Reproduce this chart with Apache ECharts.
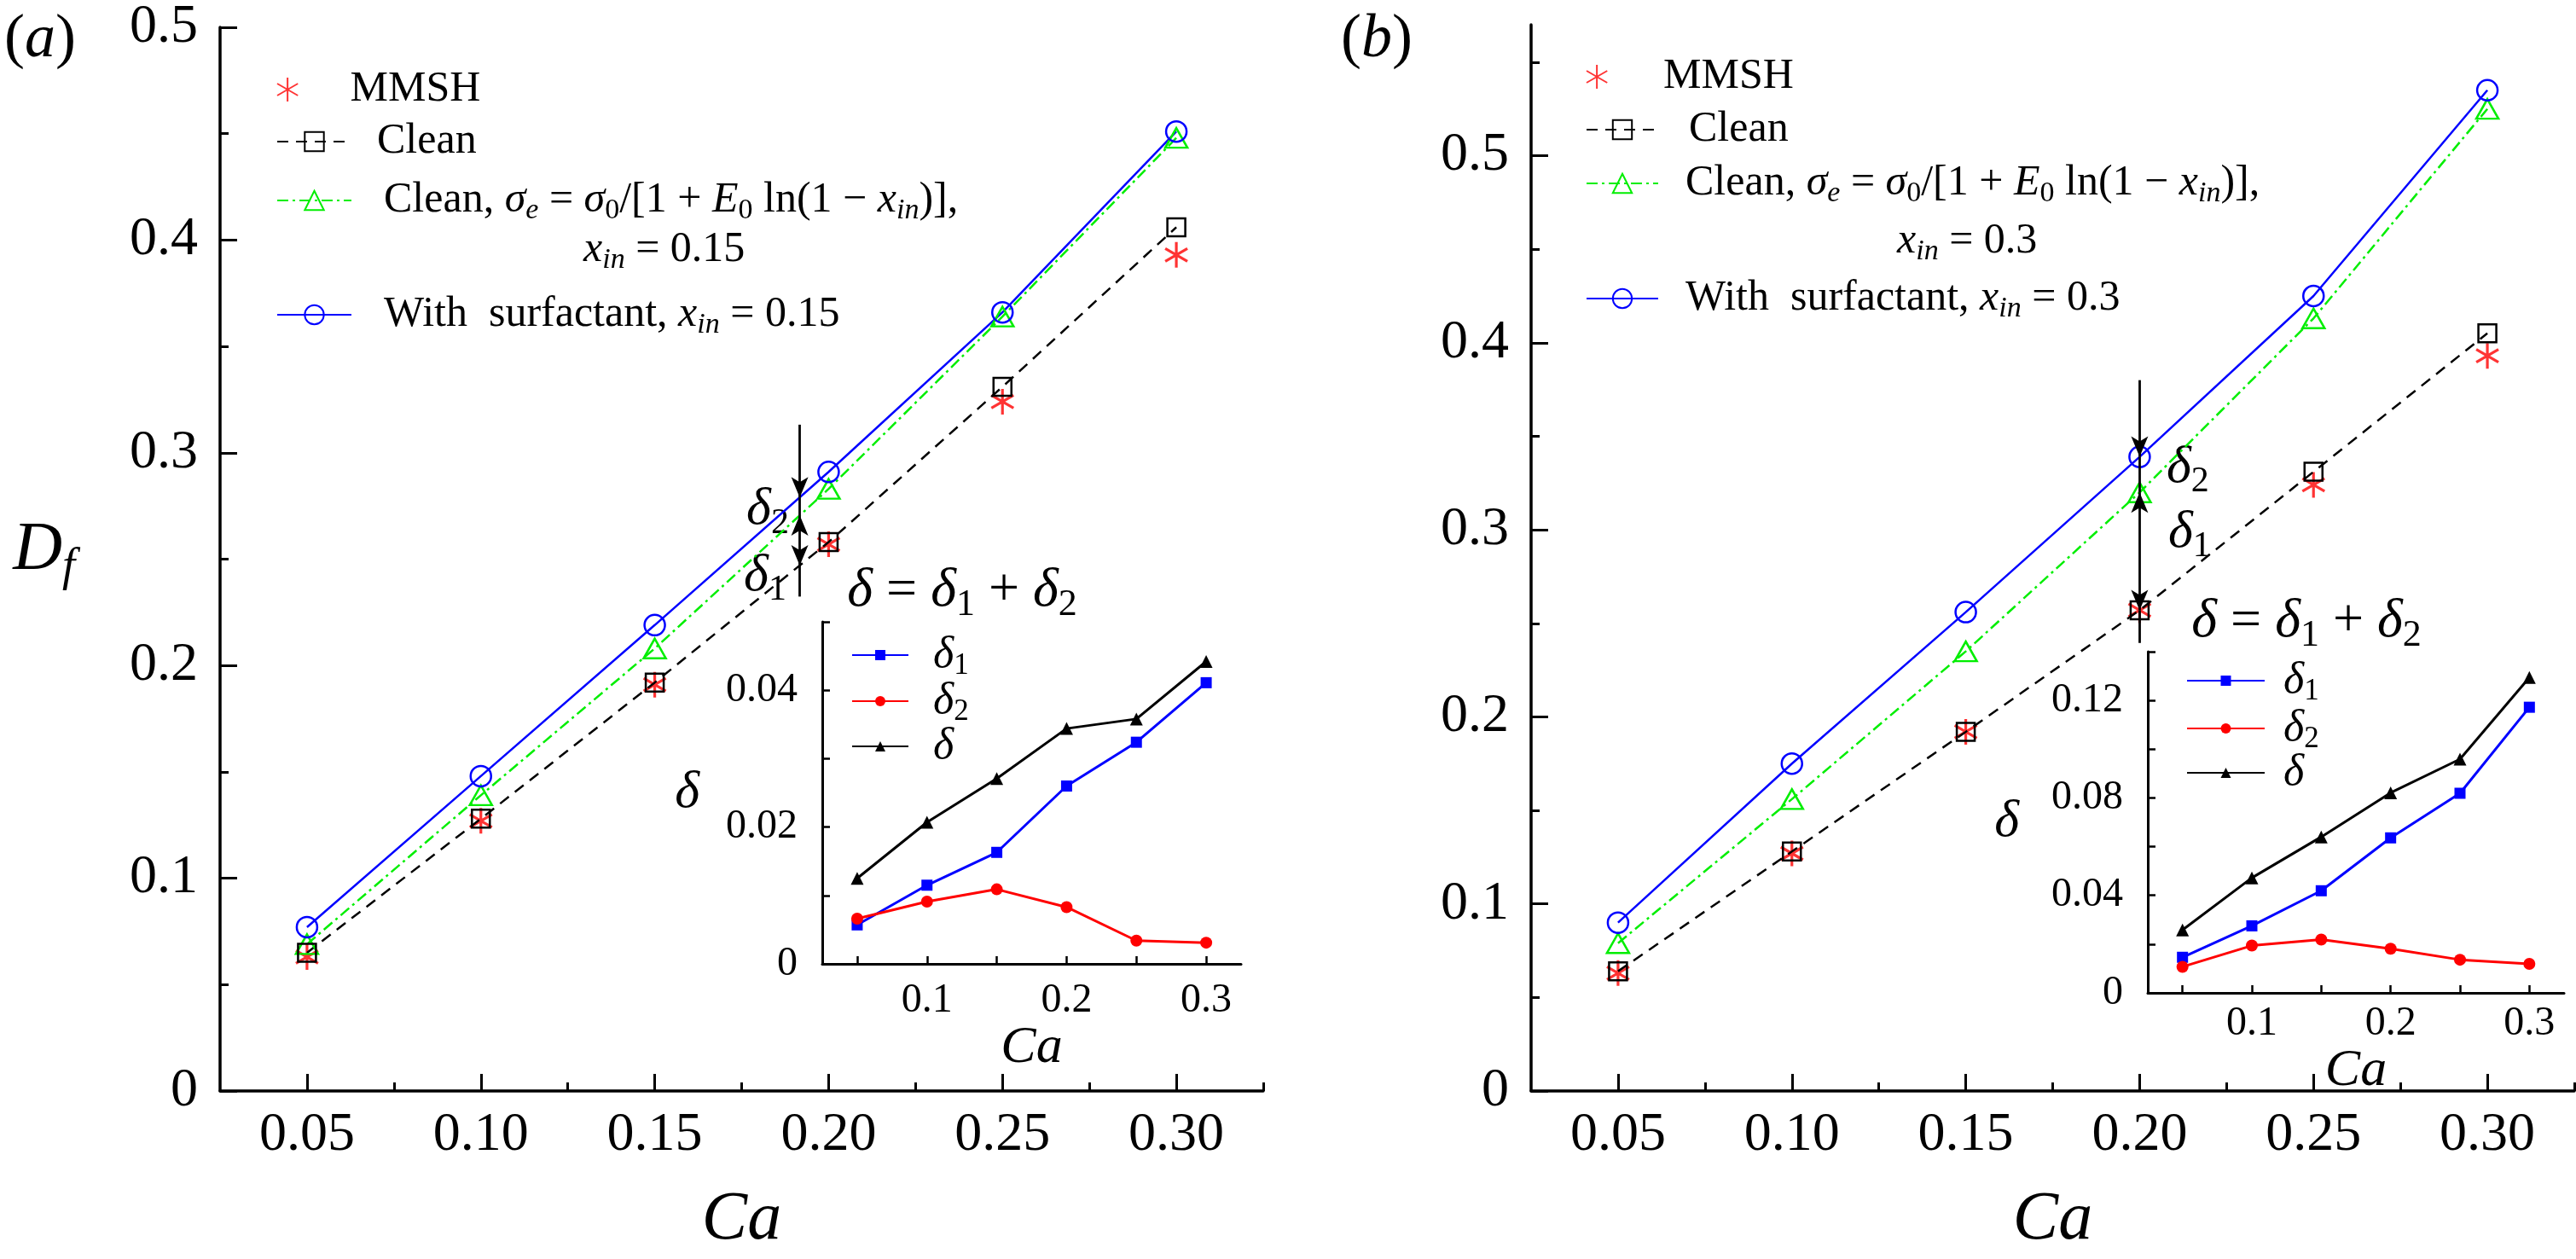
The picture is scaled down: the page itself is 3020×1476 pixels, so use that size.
<!DOCTYPE html>
<html>
<head>
<meta charset="utf-8">
<script src="https://cdn.jsdelivr.net/npm/echarts@6/dist/echarts.min.js"></script>
<style>html,body{margin:0;padding:0;background:#fff}#chart{width:3020px;height:1476px}</style>
</head>
<body>
<div id="chart"></div>
<script>
// ---------- data ----------
const ca = [0.05, 0.10, 0.15, 0.20, 0.25, 0.30];

// panel (a), x_in = 0.15
const mmshA       = [0.063, 0.127, 0.191, 0.257, 0.324, 0.393];
const cleanA      = [0.065, 0.128, 0.192, 0.258, 0.331, 0.406];
const cleanSigmaA = [0.069, 0.139, 0.208, 0.283, 0.364, 0.448];
const surfA       = [0.077, 0.148, 0.219, 0.291, 0.366, 0.451];

// panel (b), x_in = 0.3
const mmshB       = [0.063, 0.127, 0.192, 0.257, 0.324, 0.393];
const cleanB      = [0.064, 0.128, 0.192, 0.257, 0.331, 0.405];
const cleanSigmaB = [0.079, 0.156, 0.235, 0.320, 0.413, 0.525];
const surfB       = [0.090, 0.175, 0.256, 0.339, 0.425, 0.535];

// insets
const d1A = [0.0057, 0.0115, 0.0163, 0.0260, 0.0324, 0.0411];
const d2A = [0.0066, 0.0091, 0.0109, 0.0083, 0.0034, 0.0031];
const dA  = [0.0125, 0.0207, 0.0271, 0.0344, 0.0358, 0.0442];
const d1B = [0.0146, 0.0275, 0.0419, 0.0636, 0.0819, 0.1172];
const d2B = [0.0107, 0.0194, 0.0219, 0.0181, 0.0136, 0.0119];
const dB  = [0.0258, 0.0472, 0.0640, 0.0821, 0.0959, 0.1294];

// annotation arrows: [Ca, top, blue, green, clean, bottom]
const arrowA = [0.1917, 0.3132, 0.279, 0.2706, 0.247, 0.2324];
const arrowB = [0.20, 0.380, 0.339, 0.320, 0.257, 0.2395];

// tick values
const mainXTicks  = [0.05, 0.10, 0.15, 0.20, 0.25, 0.30];
const mainXMinor  = [0.075, 0.125, 0.175, 0.225, 0.275, 0.325];
const mainYTicks  = [0, 0.1, 0.2, 0.3, 0.4, 0.5];
const mainYMinorA = [0.05, 0.15, 0.25, 0.35, 0.45];
const mainYMinorB = [0.05, 0.15, 0.25, 0.35, 0.45, 0.55];
const insetXTicks  = [0.05, 0.10, 0.15, 0.20, 0.25, 0.30];
const insetXLabels = [0.1, 0.2, 0.3];
const insetYTicksA  = [0, 0.01, 0.02, 0.03, 0.04, 0.05];
const insetYLabelsA = [0, 0.02, 0.04];
const insetYTicksB  = [0, 0.02, 0.04, 0.06, 0.08, 0.10, 0.12, 0.14];
const insetYLabelsB = [0, 0.04, 0.08, 0.12];

// ---------- styling ----------
const FONT = "'Liberation Serif', 'Times New Roman', serif";
const BLUE = '#0000ff', RED = '#ff0000', GREEN = '#00ee00', BLACK = '#000000';
const STAR = 'path://M0,-10L0,10M-8.66,-5L8.66,5M-8.66,5L8.66,-5';

function R(s) {
  const lh = Math.round(s * 1.1), ss = Math.round(s * 0.68), p = Math.round(s * 0.5);
  return {
    r:  {fontFamily: FONT, fontSize: s, color: BLACK, lineHeight: lh},
    i:  {fontFamily: FONT, fontSize: s, fontStyle: 'italic', color: BLACK, lineHeight: lh},
    si: {fontFamily: FONT, fontSize: ss, fontStyle: 'italic', color: BLACK, lineHeight: lh, padding: [p, 0, 0, 0]},
    sr: {fontFamily: FONT, fontSize: ss, color: BLACK, lineHeight: lh, padding: [p, 0, 0, 0]}
  };
}
const pts = (ys) => ca.map((x, i) => [x, ys[i]]);

const cleanSigmaTxt = '{r|Clean, }{i|σ}{si|e}{r| = }{i|σ}{sr|0}{r|/[1 + }{i|E}{sr|0}{r| ln(1 − }{i|x}{si|in}{r|)],}';
const surfTxt = (v) => '{r|With  surfactant, }{i|x}{si|in}{r| = ' + v + '}';
const xinTxt = (v) => '{i|x}{si|in}{r| = ' + v + '}';
const dTxt = (n) => '{i|δ}{sr|' + n + '}';
const titleTxt = '{i|δ}{r| = }{i|δ}{sr|1}{r| + }{i|δ}{sr|2}';

function leg(series, text, left, cy, iw, ih, fs, padL) {
  const lh = Math.round(fs * 1.1);
  return {
    show: true, data: [series], left: left, top: cy - Math.max(lh, ih) / 2, orient: 'vertical',
    itemWidth: iw, itemHeight: ih, padding: 0, selectedMode: false,
    formatter: () => text,
    textStyle: {fontFamily: FONT, fontSize: fs, color: BLACK, lineHeight: lh, padding: [0, 0, 0, padL], rich: R(fs)}
  };
}

// ---------- axes ----------
function mainX(grid) {
  return [
    {type: 'value', gridIndex: grid, min: 0.025, max: 0.325, position: 'bottom',
     axisLine: {show: true, onZero: false, lineStyle: {color: BLACK, width: 3.5}},
     axisTick: {show: true, inside: true, length: 20, lineStyle: {color: BLACK, width: 3}, customValues: mainXTicks},
     axisLabel: {show: true, margin: 20, fontFamily: FONT, fontSize: 64, color: BLACK, customValues: mainXTicks, formatter: v => v.toFixed(2)},
     splitLine: {show: false},
     name: 'Ca', nameLocation: 'middle', nameGap: 112,
     nameTextStyle: {fontFamily: FONT, fontSize: 80, fontStyle: 'italic', color: BLACK, lineHeight: 80}},
    {type: 'value', gridIndex: grid, min: 0.025, max: 0.325, position: 'bottom',
     axisLine: {show: false},
     axisTick: {show: true, inside: true, length: 10, lineStyle: {color: BLACK, width: 3}, customValues: mainXMinor},
     axisLabel: {show: false}, splitLine: {show: false}}
  ];
}
function mainY(grid, max, minor, withName) {
  const major = {type: 'value', gridIndex: grid, min: 0, max: max, position: 'left',
     axisLine: {show: true, onZero: false, lineStyle: {color: BLACK, width: 3.5}},
     axisTick: {show: true, inside: true, length: 20, lineStyle: {color: BLACK, width: 3}, customValues: mainYTicks},
     axisLabel: {show: true, margin: 26, fontFamily: FONT, fontSize: 64, color: BLACK, customValues: mainYTicks,
                 formatter: v => v === 0 ? '0' : v.toFixed(1)},
     splitLine: {show: false}};
  if (withName) {
    major.name = '{i|D}{si|f}';
    major.nameLocation = 'middle';
    major.nameRotate = 0;
    major.nameGap = 170;
    major.nameTextStyle = {fontFamily: FONT, fontSize: 80, color: BLACK, padding: [0, 0, 20, 0], rich: R(80)};
  }
  return [major,
    {type: 'value', gridIndex: grid, min: 0, max: max, position: 'left',
     axisLine: {show: false},
     axisTick: {show: true, inside: true, length: 10, lineStyle: {color: BLACK, width: 3}, customValues: minor},
     axisLabel: {show: false}, splitLine: {show: false}}];
}
function insetX(grid, margin, gap) {
  return {type: 'value', gridIndex: grid, min: 0.025, max: 0.325, position: 'bottom',
    axisLine: {show: true, onZero: false, lineStyle: {color: BLACK, width: 3}},
    axisTick: {show: true, inside: true, length: 9, lineStyle: {color: BLACK, width: 2.5}, customValues: insetXTicks},
    axisLabel: {show: true, margin: margin, fontFamily: FONT, fontSize: 48, color: BLACK, customValues: insetXLabels, formatter: v => v.toFixed(1)},
    splitLine: {show: false},
    name: 'Ca', nameLocation: 'middle', nameGap: gap,
    nameTextStyle: {fontFamily: FONT, fontSize: 62, fontStyle: 'italic', color: BLACK, lineHeight: 62}};
}
function insetY(grid, max, ticks, labels, gap, pad) {
  return {type: 'value', gridIndex: grid, min: 0, max: max, position: 'left',
    axisLine: {show: true, onZero: false, lineStyle: {color: BLACK, width: 3}},
    axisTick: {show: true, inside: true, length: 9, lineStyle: {color: BLACK, width: 2.5}, customValues: ticks},
    axisLabel: {show: true, margin: 29, fontFamily: FONT, fontSize: 48, color: BLACK, customValues: labels,
                formatter: v => v === 0 ? '0' : v.toFixed(2)},
    splitLine: {show: false},
    name: 'δ', nameLocation: 'middle', nameRotate: 0, nameGap: gap,
    nameTextStyle: {fontFamily: FONT, fontSize: 62, fontStyle: 'italic', color: BLACK, lineHeight: 62, padding: pad}};
}

// ---------- series ----------
function mainSeries(tag, xi, yi, mmsh, clean, cleanSigma, surf) {
  return [
    {name: 'cleanSigma' + tag, type: 'line', xAxisIndex: xi, yAxisIndex: yi, data: pts(cleanSigma), color: GREEN,
     symbol: 'triangle', symbolSize: [26, 23],
     itemStyle: {color: 'rgba(255,255,255,0)', borderColor: GREEN, borderWidth: 2.5},
     lineStyle: {color: GREEN, width: 2.5, type: [13, 5, 3, 5]}},
    {name: 'surf' + tag, type: 'line', xAxisIndex: xi, yAxisIndex: yi, data: pts(surf), color: BLUE,
     symbol: 'circle', symbolSize: 24,
     itemStyle: {color: 'rgba(255,255,255,0)', borderColor: BLUE, borderWidth: 2.5},
     lineStyle: {color: BLUE, width: 2.5, type: 'solid'}},
    {name: 'clean' + tag, type: 'line', xAxisIndex: xi, yAxisIndex: yi, data: pts(clean), color: BLACK,
     symbol: 'rect', symbolSize: 21,
     itemStyle: {color: 'rgba(255,255,255,0)', borderColor: BLACK, borderWidth: 2.5},
     lineStyle: {color: BLACK, width: 2.5, type: [13, 9]}},
    {name: 'mmsh' + tag, type: 'scatter', xAxisIndex: xi, yAxisIndex: yi, data: pts(mmsh), color: RED,
     symbol: STAR, symbolSize: 30, symbolKeepAspect: true,
     itemStyle: {color: RED, borderColor: RED, borderWidth: 3.2}}
  ];
}
function arrowSeries(xi, yi, a) {
  const x = a[0];
  const head = {symbol: 'arrow', symbolSize: [15, 24]};
  return {name: 'arrow' + xi, type: 'line', xAxisIndex: xi, yAxisIndex: yi, data: [], silent: true,
    markLine: {silent: true, animation: false, symbol: ['none', 'none'], label: {show: false},
      lineStyle: {color: BLACK, width: 2.8, type: 'solid'},
      emphasis: {disabled: true},
      data: [
        [{coord: [x, a[1]], symbol: 'none'}, Object.assign({coord: [x, a[2]]}, head)],
        [{coord: [x, a[2]], symbol: 'none'}, {coord: [x, a[3]], symbol: 'none'}],
        [Object.assign({coord: [x, a[3]]}, head), Object.assign({coord: [x, a[4]]}, head)],
        [{coord: [x, a[4]], symbol: 'none'}, {coord: [x, a[5]], symbol: 'none'}]
      ]}};
}
function insetSeries(tag, xi, yi, d1, d2, d) {
  return [
    {name: 'd1' + tag, type: 'line', xAxisIndex: xi, yAxisIndex: yi, data: pts(d1), color: BLUE,
     symbol: 'rect', symbolSize: 13, itemStyle: {color: BLUE}, lineStyle: {color: BLUE, width: 3}},
    {name: 'd2' + tag, type: 'line', xAxisIndex: xi, yAxisIndex: yi, data: pts(d2), color: RED,
     symbol: 'circle', symbolSize: 14, itemStyle: {color: RED}, lineStyle: {color: RED, width: 3}},
    {name: 'd' + tag, type: 'line', xAxisIndex: xi, yAxisIndex: yi, data: pts(d), color: BLACK,
     symbol: 'triangle', symbolSize: 15, itemStyle: {color: BLACK}, lineStyle: {color: BLACK, width: 3}}
  ];
}

const xAxes = [].concat(mainX(0), mainX(1), [insetX(2, 19, 67), insetX(3, 12, 59)]);
const yAxes = [].concat(mainY(0, 0.5, mainYMinorA, true), mainY(1, 0.57, mainYMinorB, false),
  [insetY(2, 0.05, insetYTicksA, insetYLabelsA, 144, [0, 0, 68, 0]),
   insetY(3, 0.14, insetYTicksB, insetYLabelsB, 151, [64, 0, 0, 0])]);

const option = {
  animation: false,
  backgroundColor: '#ffffff',
  grid: [
    {left: 258, top: 31, width: 1223, height: 1250},
    {left: 1795, top: 29, width: 1223, height: 1252},
    {left: 964, top: 729, width: 491, height: 401},
    {left: 2518, top: 764, width: 488, height: 400}
  ],
  xAxis: xAxes,
  yAxis: yAxes,
  legend: [
    leg('mmshA', '{r|MMSH}', 324, 105, 87, 28, 50, 25),
    leg('cleanA', '{r|Clean}', 324, 166, 87, 28, 50, 25),
    leg('cleanSigmaA', cleanSigmaTxt, 324, 233, 87, 28, 50, 33),
    leg('surfA', surfTxt('0.15'), 324, 367, 87, 28, 50, 33),
    leg('mmshB', '{r|MMSH}', 1859, 90, 84, 28, 50, 31),
    leg('cleanB', '{r|Clean}', 1859, 152, 84, 28, 50, 31),
    leg('cleanSigmaB', cleanSigmaTxt, 1859, 213, 84, 28, 50, 27),
    leg('surfB', surfTxt('0.3'), 1859, 348, 84, 28, 50, 27),
    leg('d1A', dTxt(1), 998, 766, 66, 15, 52, 24),
    leg('d2A', dTxt(2), 998, 820, 66, 15, 52, 24),
    leg('dA', '{i|δ}', 998, 875, 66, 15, 52, 24),
    leg('d1B', dTxt(1), 2563, 796, 91, 15, 52, 17),
    leg('d2B', dTxt(2), 2563, 852, 91, 15, 52, 17),
    leg('dB', '{i|δ}', 2563, 906, 91, 15, 52, 17)
  ],
  graphic: [
    {type: 'text', x: 5, y: 47, style: {text: '{r|(}{i|a}{r|)}', rich: R(72), align: 'left', verticalAlign: 'middle'}},
    {type: 'text', x: 1572, y: 47, style: {text: '{r|(}{i|b}{r|)}', rich: R(72), align: 'left', verticalAlign: 'middle'}},
    {type: 'text', x: 684, y: 293, style: {text: xinTxt('0.15'), rich: R(50), align: 'left', verticalAlign: 'middle'}},
    {type: 'text', x: 2224, y: 283, style: {text: xinTxt('0.3'), rich: R(50), align: 'left', verticalAlign: 'middle'}},
    {type: 'text', x: 900, y: 598, style: {text: dTxt(2), rich: R(62), align: 'center', verticalAlign: 'middle'}},
    {type: 'text', x: 897, y: 676, style: {text: dTxt(1), rich: R(62), align: 'center', verticalAlign: 'middle'}},
    {type: 'text', x: 2540, y: 549, style: {text: dTxt(2), rich: R(62), align: 'left', verticalAlign: 'middle'}},
    {type: 'text', x: 2542, y: 625, style: {text: dTxt(1), rich: R(62), align: 'left', verticalAlign: 'middle'}},
    {type: 'text', x: 1128, y: 693, style: {text: titleTxt, rich: R(64), align: 'center', verticalAlign: 'middle'}},
    {type: 'text', x: 2704, y: 729, style: {text: titleTxt, rich: R(64), align: 'center', verticalAlign: 'middle'}}
  ],
  series: [].concat(
    mainSeries('A', 0, 0, mmshA, cleanA, cleanSigmaA, surfA),
    [arrowSeries(0, 0, arrowA)],
    mainSeries('B', 2, 2, mmshB, cleanB, cleanSigmaB, surfB),
    [arrowSeries(2, 2, arrowB)],
    insetSeries('A', 4, 4, d1A, d2A, dA),
    insetSeries('B', 5, 5, d1B, d2B, dB)
  )
};

const chart = echarts.init(document.getElementById('chart'), null, {renderer: 'canvas'});
chart.setOption(option);
</script>
</body>
</html>
